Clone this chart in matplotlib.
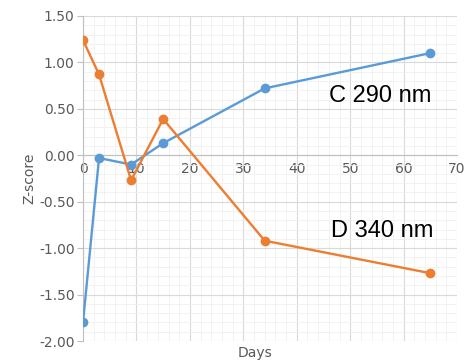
import matplotlib
matplotlib.use("Agg")
from matplotlib import pyplot as plt
from matplotlib.ticker import MultipleLocator, FormatStrFormatter

days = [0, 3, 9, 15, 34, 65]
c_290 = [-1.80, -0.03, -0.10, 0.13, 0.72, 1.10]
d_340 = [1.24, 0.87, -0.27, 0.39, -0.92, -1.27]

blue = "#5B9BD5"
orange = "#ED7D31"
grey = "#595959"

fig = plt.figure(figsize=(4.65, 3.62), dpi=100)
ax = fig.add_axes([0.1785, 0.058, 0.8045, 0.898])

ax.plot(days, c_290, color=blue, lw=1.7, marker="o", ms=6, zorder=3)
ax.plot(days, d_340, color=orange, lw=1.7, marker="o", ms=6, zorder=3)

ax.set_xlim(0, 70)
ax.set_ylim(-2.0, 1.5)
ax.xaxis.set_major_locator(MultipleLocator(10))
ax.xaxis.set_minor_locator(MultipleLocator(2))
ax.yaxis.set_major_locator(MultipleLocator(0.5))
ax.yaxis.set_minor_locator(MultipleLocator(0.1))
ax.yaxis.set_major_formatter(FormatStrFormatter("%.2f"))

ax.grid(which="major", color="#d9d9d9", lw=0.8, zorder=0)
ax.grid(which="minor", color="#f0f0f0", lw=0.6, zorder=0)
ax.set_axisbelow(True)

# x axis crosses at y = 0, like the Excel chart
ax.spines["bottom"].set_position(("data", 0))
ax.spines["bottom"].set_color("#bfbfbf")
ax.spines["left"].set_color("#bfbfbf")
ax.spines["top"].set_visible(False)
ax.spines["right"].set_visible(False)

ax.tick_params(which="both", colors="#bfbfbf", labelcolor=grey, labelsize=10)
ax.tick_params(which="minor", length=0)
ax.tick_params(axis="x", which="major", length=0, pad=5)
ax.tick_params(axis="y", which="major", length=4, pad=2)

ax.set_ylabel("Z-score", color=grey, fontsize=10, labelpad=2)
fig.text(0.548, 0.005, "Days", color=grey, fontsize=10, ha="center", va="bottom")

ax.text(55.6, 0.64, "C 290 nm", fontsize=17, family="Liberation Sans", ha="center", va="center")
ax.text(56.0, -0.82, "D 340 nm", fontsize=17, family="Liberation Sans", ha="center", va="center")

fig.savefig("out.png", dpi=100)
